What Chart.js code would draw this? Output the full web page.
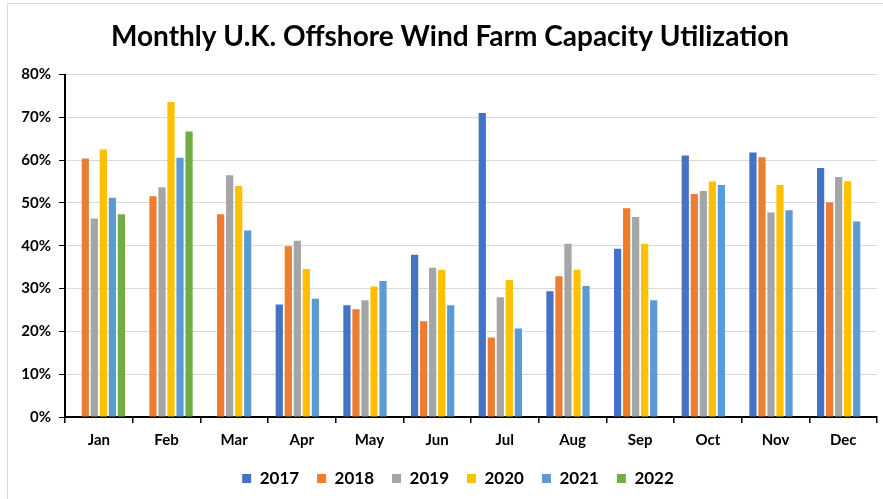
<!DOCTYPE html>
<html>
<head>
<meta charset="utf-8">
<title>Monthly U.K. Offshore Wind Farm Capacity Utilization</title>
<script src="https://cdn.jsdelivr.net/npm/chart.js@4.4.1/dist/chart.umd.min.js"></script>
<style>
    html, body { margin: 0; padding: 0; background: #fff; }
    #wrap { position: relative; width: 883px; height: 499px; }
    #frame { position: absolute; left: 7px; top: 3px; right: 0; bottom: -2px; border: 1px solid #d9d9d9; border-right: none; border-bottom: none; }
    canvas { position: absolute; left: 0; top: 0; }
</style>
</head>
<body>
<div id="wrap">
    <div id="frame"></div>
    <canvas id="chart" width="883" height="499"></canvas>
</div>
<script>
// chart data (capacity utilization, %)
months = ["Jan", "Feb", "Mar", "Apr", "May", "Jun", "Jul", "Aug", "Sep", "Oct", "Nov", "Dec"];
years = ["2017", "2018", "2019", "2020", "2021", "2022"];
yearColors = ["#4472C4", "#ED7D31", "#A5A5A5", "#FFC000", "#5B9BD5", "#70AD47"];
yTicks = [0, 10, 20, 30, 40, 50, 60, 70, 80];

util2017 = [null, null, null, 26.3, 26.1, 37.9, 71.0, 29.4, 39.3, 61.1, 61.8, 58.2];
util2018 = [60.4, 51.6, 47.4, 39.9, 25.2, 22.4, 18.6, 32.9, 48.8, 52.1, 60.7, 50.2];
util2019 = [46.4, 53.7, 56.5, 41.2, 27.3, 34.9, 28.0, 40.5, 46.7, 52.8, 47.8, 56.1];
util2020 = [62.5, 73.6, 54.0, 34.6, 30.5, 34.4, 32.0, 34.4, 40.5, 55.0, 54.2, 55.1];
util2021 = [51.2, 60.6, 43.6, 27.6, 31.8, 26.1, 20.7, 30.6, 27.3, 54.2, 48.3, 45.7];
util2022 = [47.4, 66.7, null, null, null, null, null, null, null, null, null, null];

document.addEventListener("DOMContentLoaded", main);

// title and legend in the original sit a bit right of the canvas centre
shiftBoxes = {
    id: "shiftBoxes",
    afterLayout(chart) {
        if (chart.titleBlock) chart.titleBlock.left += 16;
        if (chart.legend) {
            chart.legend.left += 24;
            chart.legend.right += 8;
            chart.legend.width = chart.legend.right - chart.legend.left;
        }
    }
};

function main() {
    let series = [util2017, util2018, util2019, util2020, util2021, util2022];
    let datasets = [];
    for (let n = 0; n < years.length; n++) {
        datasets.push({
            label: years[n],
            data: series[n],
            backgroundColor: yearColors[n],
            borderWidth: 0,
            categoryPercentage: 0.8,
            barPercentage: 0.8
        });
    }
    let font = "Lato, 'Open Sans', sans-serif";
    let ctx = document.getElementById("chart").getContext("2d");
    new Chart(ctx, {
        type: "bar",
        data: { labels: months, datasets: datasets },
        plugins: [shiftBoxes],
        options: {
            responsive: false,
            animation: false,
            layout: { padding: { left: 7, right: 6, top: 0, bottom: 2 } },
            plugins: {
                title: {
                    display: true,
                    text: "Monthly U.K. Offshore Wind Farm Capacity Utilization",
                    color: "#000",
                    font: { family: font, size: 28, weight: "bold", lineHeight: 1.2 },
                    padding: { top: 20, bottom: 21 }
                },
                legend: {
                    position: "bottom",
                    labels: {
                        color: "#000",
                        boxWidth: 9,
                        boxHeight: 9,
                        padding: 18,
                        font: { family: font, size: 17, weight: "bold" }
                    }
                },
                tooltip: { enabled: false }
            },
            scales: {
                x: {
                    grid: { color: "rgba(0,0,0,0)", tickColor: "#000", tickLength: 6, lineWidth: 1.5, offset: true },
                    border: { display: true, color: "#000", width: 2 },
                    ticks: { color: "#000", padding: 8, font: { family: font, size: 15, weight: "bold" } },
                    afterFit: s => { s.height = 35; }
                },
                y: {
                    min: 0,
                    max: 80,
                    afterBuildTicks: s => { s.ticks = yTicks.map(v => ({ value: v })); },
                    grid: { color: "#d9d9d9", lineWidth: 1, tickColor: "#000", tickLength: 6 },
                    border: { display: true, color: "#000", width: 2 },
                    ticks: {
                        color: "#000",
                        padding: 8,
                        font: { family: font, size: 15, weight: "bold" },
                        callback: v => v + "%"
                    },
                    afterFit: s => { s.width = 58; }
                }
            }
        }
    });
}
</script>
</body>
</html>
